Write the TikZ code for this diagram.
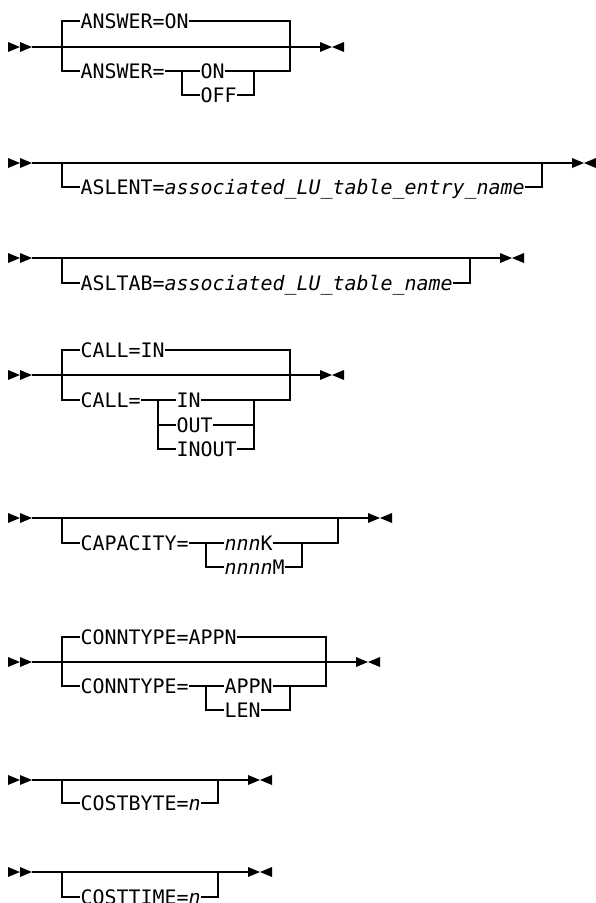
\documentclass[tikz,border=0pt]{standalone}
\usepackage{fontspec}
\usepackage{tikz}
\newfontfamily\railfont{DejaVu Sans Mono}
\newcommand{\railstart}[1]{%
  \fill[shift={(#1)}] (-24,-5) -- (-12,0) -- (-24,5) -- cycle
                      (-12,-5) -- (0,0) -- (-12,5) -- cycle;}
\newcommand{\railend}[1]{%
  \fill[shift={(#1)}] (0,-5) -- (12,0) -- (0,5) -- cycle
                      (24,-5) -- (12,0) -- (24,5) -- cycle;}

\begin{document}
\begin{tikzpicture}[x=1pt, y=-1pt, line width=1.3pt,
  kw/.style={anchor=west, inner sep=0pt, text height=14.5pt, text depth=0pt,
    font=\railfont\fontsize{19.93}{24}\selectfont}]
  \useasboundingbox (0,0) rectangle (595,903);

  \coordinate (ansS) at (32,47);
  \coordinate (ansE) at (320,47);
  \coordinate (ansL) at (62,47);
  \coordinate (ansR) at (290,47);
  \coordinate (ansIL) at (182,71);
  \coordinate (ansIR) at (254,71);
  \node[kw] (ansDef) at (80,21) {ANSWER=ON};
  \node[kw] (ansKey) at (80,71) {ANSWER=};
  \node[kw] (ansOn) at (200,71) {ON};
  \node[kw] (ansOff) at (200,95) {OFF};
  \railstart{ansS}
  \railend{ansE}
  \draw (ansS) -- (ansE);
  \draw (ansDef.west) -| (ansL) |- (ansKey.west);
  \draw (ansDef.east) -| (ansR) |- (ansIR);
  \draw (ansKey.east) -- (ansOn.west);
  \draw (ansOn.east) -- (ansIR);
  \draw (ansIL) |- (ansOff.west);
  \draw (ansOff.east) -| (ansIR);

  \coordinate (aslS) at (32,163);
  \coordinate (aslE) at (572,163);
  \coordinate (aslL) at (62,163);
  \coordinate (aslR) at (542,163);
  \node[kw] (aslOpt) at (80,187) {ASLENT=\textit{associated\_LU\_table\_entry\_name}};
  \railstart{aslS}
  \railend{aslE}
  \draw (aslS) -- (aslE);
  \draw (aslL) |- (aslOpt.west);
  \draw (aslOpt.east) -| (aslR);

  \coordinate (tabS) at (32,258);
  \coordinate (tabE) at (500,258);
  \coordinate (tabL) at (62,258);
  \coordinate (tabR) at (470,258);
  \node[kw] (tabOpt) at (80,283) {ASLTAB=\textit{associated\_LU\_table\_name}};
  \railstart{tabS}
  \railend{tabE}
  \draw (tabS) -- (tabE);
  \draw (tabL) |- (tabOpt.west);
  \draw (tabOpt.east) -| (tabR);

  \coordinate (callS) at (32,375);
  \coordinate (callE) at (320,375);
  \coordinate (callL) at (62,375);
  \coordinate (callR) at (290,375);
  \coordinate (callIL) at (158,400);
  \coordinate (callIR) at (254,400);
  \node[kw] (callDef) at (80,350) {CALL=IN};
  \node[kw] (callKey) at (80,400) {CALL=};
  \node[kw] (callIn) at (176,400) {IN};
  \node[kw] (callOut) at (176,425) {OUT};
  \node[kw] (callInout) at (176,449) {INOUT};
  \railstart{callS}
  \railend{callE}
  \draw (callS) -- (callE);
  \draw (callDef.west) -| (callL) |- (callKey.west);
  \draw (callDef.east) -| (callR) |- (callIR);
  \draw (callKey.east) -- (callIn.west);
  \draw (callIn.east) -- (callIR);
  \draw (callIL) |- (callInout.west);
  \draw (callIL |- callOut) -- (callOut.west);
  \draw (callOut.east) -- (callOut.east -| callIR);
  \draw (callInout.east) -| (callIR);

  \coordinate (capS) at (32,518);
  \coordinate (capE) at (368,518);
  \coordinate (capL) at (62,518);
  \coordinate (capR) at (338,518);
  \coordinate (capIL) at (206,543);
  \coordinate (capIR) at (302,543);
  \node[kw] (capKey) at (80,543) {CAPACITY=};
  \node[kw] (capK) at (224,543) {\textit{nnn}K};
  \node[kw] (capM) at (224,567) {\textit{nnnn}M};
  \railstart{capS}
  \railend{capE}
  \draw (capS) -- (capE);
  \draw (capL) |- (capKey.west);
  \draw (capKey.east) -- (capK.west);
  \draw (capK.east) -- (capIR) -| (capR);
  \draw (capIL) |- (capM.west);
  \draw (capM.east) -| (capIR);

  \coordinate (connS) at (32,662);
  \coordinate (connE) at (356,662);
  \coordinate (connL) at (62,662);
  \coordinate (connR) at (326,662);
  \coordinate (connIL) at (206,686);
  \coordinate (connIR) at (290,686);
  \node[kw] (connDef) at (80,637) {CONNTYPE=APPN};
  \node[kw] (connKey) at (80,686) {CONNTYPE=};
  \node[kw] (connAppn) at (224,686) {APPN};
  \node[kw] (connLen) at (224,710) {LEN};
  \railstart{connS}
  \railend{connE}
  \draw (connS) -- (connE);
  \draw (connDef.west) -| (connL) |- (connKey.west);
  \draw (connDef.east) -| (connR) |- (connIR);
  \draw (connKey.east) -- (connAppn.west);
  \draw (connAppn.east) -- (connIR);
  \draw (connIL) |- (connLen.west);
  \draw (connLen.east) -| (connIR);

  \coordinate (byteS) at (32,780);
  \coordinate (byteE) at (248,780);
  \coordinate (byteL) at (62,780);
  \coordinate (byteR) at (218,780);
  \node[kw] (byteOpt) at (80,803) {COSTBYTE=\textit{n}};
  \railstart{byteS}
  \railend{byteE}
  \draw (byteS) -- (byteE);
  \draw (byteL) |- (byteOpt.west);
  \draw (byteOpt.east) -| (byteR);

  \coordinate (timeS) at (32,872);
  \coordinate (timeE) at (248,872);
  \coordinate (timeL) at (62,872);
  \coordinate (timeR) at (218,872);
  \node[kw] (timeOpt) at (80,897) {COSTTIME=\textit{n}};
  \railstart{timeS}
  \railend{timeE}
  \draw (timeS) -- (timeE);
  \draw (timeL) |- (timeOpt.west);
  \draw (timeOpt.east) -| (timeR);
\end{tikzpicture}
\end{document}
